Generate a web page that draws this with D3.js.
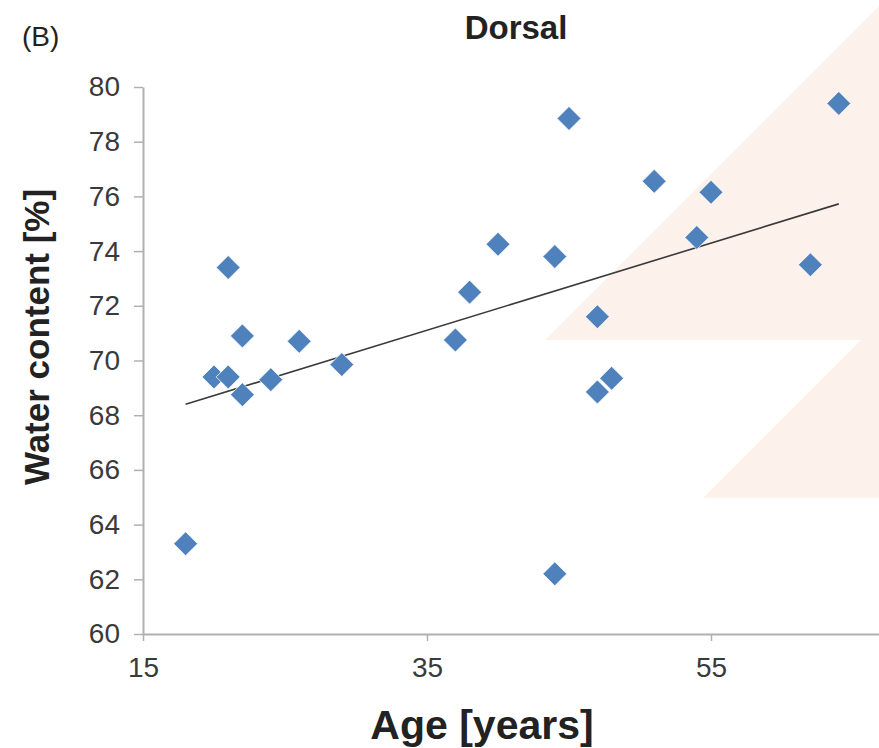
<!DOCTYPE html>
<html>
<head>
    <meta charset="UTF-8">
    <title>Dorsal</title>
    <script src="https://d3js.org/d3.v7.min.js"></script>
    <style>
        body { margin: 0; background: #fff; }
        svg { display: block; font-family: "Liberation Sans", Arial, sans-serif; }
    </style>
</head>
<body>
<div id="chart"></div>
<script>
    // ages and water content
    var ages = [18, 20, 21, 21, 22, 22, 24, 26, 29, 37, 38, 40, 44, 44, 45, 47, 47, 48, 51, 54, 55, 62, 64];
    var water = [63.3, 69.4, 69.4, 73.4, 70.9, 68.75, 69.3, 70.7, 69.85, 70.75, 72.5, 74.25, 73.8, 62.2,
                 78.85, 71.6, 68.85, 69.35, 76.55, 74.5, 76.15, 73.5, 79.4];
    var xTicks = [15, 35, 55];
    var yTicks = [60, 62, 64, 66, 68, 70, 72, 74, 76, 78, 80];

    var width = 879, height = 748;

    var svg = d3.select("#chart").append("svg")
        .attr("width", width)
        .attr("height", height);

    // faint background shapes seen behind the plot
    svg.append("polygon")
        .attr("points", "545,340 879,340 879,6")
        .attr("fill", "#fdf1eb");
    svg.append("polygon")
        .attr("points", "703,498 879,498 879,322")
        .attr("fill", "#fdf1eb");

    var x = d3.scaleLinear().domain([15, 75]).range([143, 995]);
    var y = d3.scaleLinear().domain([60, 80]).range([634, 87]);

    // y axis
    var yAxis = svg.append("g")
        .attr("transform", "translate(143,0)")
        .call(d3.axisLeft(y).tickValues(yTicks).tickSize(9).tickPadding(14).tickSizeOuter(0));
    yAxis.select(".domain").attr("stroke", "#b0b0b0").attr("stroke-width", 2);
    yAxis.selectAll(".tick line").attr("stroke", "#b0b0b0").attr("stroke-width", 1.5);
    yAxis.selectAll(".tick text")
        .attr("font-size", 28)
        .attr("fill", "#3a3a3a")
        .attr("font-family", "Liberation Sans, Arial, sans-serif");

    // x axis
    var xAxis = svg.append("g")
        .attr("transform", "translate(0,634)")
        .call(d3.axisBottom(x).tickValues(xTicks).tickSize(7).tickPadding(16).tickSizeOuter(0));
    xAxis.select(".domain").attr("stroke", "#b0b0b0").attr("stroke-width", 2);
    xAxis.selectAll(".tick line").attr("stroke", "#b0b0b0").attr("stroke-width", 1.5);
    xAxis.selectAll(".tick text")
        .attr("font-size", 28)
        .attr("fill", "#3a3a3a")
        .attr("font-family", "Liberation Sans, Arial, sans-serif");

    // linear trend line (least squares)
    var n = ages.length;
    var mx = d3.mean(ages), my = d3.mean(water);
    var sxy = 0, sxx = 0;
    for (var i = 0; i < n; i++) {
        sxy += (ages[i] - mx) * (water[i] - my);
        sxx += (ages[i] - mx) * (ages[i] - mx);
    }
    var slope = sxy / sxx;
    var icpt = my - slope * mx;
    var x0 = d3.min(ages), x1 = d3.max(ages);
    svg.append("line")
        .attr("x1", x(x0)).attr("y1", y(icpt + slope * x0))
        .attr("x2", x(x1)).attr("y2", y(icpt + slope * x1))
        .attr("stroke", "#3a3a3a")
        .attr("stroke-width", 1.6);

    // diamonds
    var r = 12;
    svg.selectAll("path.pt")
        .data(ages)
        .enter()
        .append("path")
        .attr("class", "pt")
        .attr("d", function(d, i) {
            var cx = x(d), cy = y(water[i]);
            return "M" + cx + "," + (cy - r) + "L" + (cx + r) + "," + cy +
                   "L" + cx + "," + (cy + r) + "L" + (cx - r) + "," + cy + "Z";
        })
        .attr("fill", "#4f81bd")
        .attr("stroke", "#fff")
        .attr("stroke-width", 0.8);

    // texts
    svg.append("text")
        .attr("x", 22).attr("y", 46)
        .attr("font-size", 28)
        .attr("fill", "#222")
        .text("(B)");

    svg.append("text")
        .attr("x", 516).attr("y", 39)
        .attr("text-anchor", "middle")
        .attr("font-size", 33)
        .attr("font-weight", "bold")
        .attr("fill", "#222")
        .text("Dorsal");

    svg.append("text")
        .attr("transform", "translate(49,337) rotate(-90)")
        .attr("text-anchor", "middle")
        .attr("font-size", 35)
        .attr("font-weight", "bold")
        .attr("fill", "#222")
        .text("Water content [%]");

    svg.append("text")
        .attr("x", 482).attr("y", 739)
        .attr("text-anchor", "middle")
        .attr("font-size", 41)
        .attr("font-weight", "bold")
        .attr("fill", "#222")
        .text("Age [years]");
</script>
</body>
</html>
